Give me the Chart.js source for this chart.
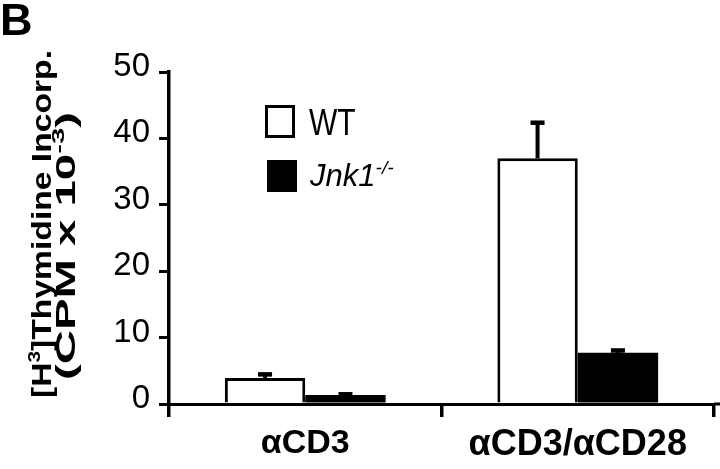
<!DOCTYPE html>
<html>
<head>
<meta charset="utf-8">
<script src="https://cdn.jsdelivr.net/npm/chart.js@4.4.1/dist/chart.umd.min.js"></script>
<style>
  html, body { margin: 0; padding: 0; background: #fff; }
  #wrap { width: 720px; height: 469px; position: relative; }
</style>
</head>
<body>
<div id="wrap"><canvas id="c" width="720" height="469"></canvas></div>
<script>
// ---- data ----
const categories = ['\u03B1CD3', '\u03B1CD3/\u03B1CD28'];
const wtValues = [3.9, 37.0];
const wtErrors = [0.6, 5.4];
const jnkValues = [1.35, 7.7];
const jnkErrors = [0.15, 0.4];
const yTicks = [0, 10, 20, 30, 40, 50];

const SANS = '"Liberation Sans", Arial, Helvetica, sans-serif';

const errorBars = {
  id: 'errorBars',
  afterDatasetsDraw(chart) {
    const ctx = chart.ctx;
    const ys = chart.scales.y;
    const errs = [wtErrors, jnkErrors];
    chart.data.datasets.forEach((ds, i) => {
      const meta = chart.getDatasetMeta(i);
      meta.data.forEach((bar, j) => {
        const v = ds.data[j];
        const yTop = ys.getPixelForValue(v);
        const yE = ys.getPixelForValue(v + errs[i][j]);
        ctx.save();
        ctx.fillStyle = '#000';
        ctx.fillRect(bar.x - 2, yE, 4, yTop - yE);
        ctx.fillRect(bar.x - 7, yE - 2, 14, 4.5);
        ctx.restore();
      });
    });
  }
};

function drawParts(ctx, parts, size, weight, style) {
  let x = 0;
  parts.forEach(p => {
    const s = p.sup ? size * 0.62 : size;
    ctx.font = `${style || 'normal'} ${weight} ${s}px ${SANS}`;
    ctx.fillText(p.t, x, p.sup ? -size * 0.38 : 0);
    x += ctx.measureText(p.t).width;
  });
  return x;
}
function measureParts(ctx, parts, size, weight, style) {
  let w = 0;
  parts.forEach(p => {
    const s = p.sup ? size * 0.62 : size;
    ctx.font = `${style || 'normal'} ${weight} ${s}px ${SANS}`;
    w += ctx.measureText(p.t).width;
  });
  return w;
}

const decorations = {
  id: 'decorations',
  afterDraw(chart) {
    const ctx = chart.ctx;
    ctx.save();
    ctx.fillStyle = '#000';
    ctx.textBaseline = 'alphabetic';
    ctx.textAlign = 'left';
    // panel letter
    ctx.font = `bold 45px ${SANS}`;
    ctx.fillText('B', 0, 35);

    // y title, two rotated lines
    const line1 = [{t: '[H'}, {t: '3', sup: true}, {t: ']Thymidine Incorp.'}];
    const line2 = [{t: '(CPM x 10'}, {t: '-3', sup: true}, {t: ')'}];
    [[line1, 51, 398, 348], [line2, 75, 380, 268]].forEach(([parts, bx, y0, len]) => {
      const size = 28;
      const w = measureParts(ctx, parts, size, 'bold');
      ctx.save();
      ctx.translate(bx, y0);
      ctx.rotate(-Math.PI / 2);
      ctx.scale(len / w, 1);
      drawParts(ctx, parts, size, 'bold');
      ctx.restore();
    });

    // legend
    ctx.lineWidth = 3;
    ctx.strokeStyle = '#000';
    ctx.fillStyle = '#fff';
    ctx.fillRect(266.5, 106.5, 27, 30);
    ctx.strokeRect(266.5, 106.5, 27, 30);
    ctx.fillStyle = '#000';
    ctx.fillRect(267, 160, 30, 32);
    ctx.save();
    ctx.translate(309, 135);
    ctx.scale(1, 1.2);
    drawParts(ctx, [{t: 'WT'}], 30, 'normal');
    ctx.restore();
    ctx.save();
    ctx.translate(310, 186);
    drawParts(ctx, [{t: 'Jnk1'}, {t: '-/-', sup: true}], 31, 'normal', 'italic');
    ctx.restore();

    // extend x axis to right edge
    const ca = chart.chartArea;
    ctx.fillRect(ca.right, ca.bottom - 1.5, 720 - ca.right, 3);
    ctx.restore();
  }
};

new Chart(document.getElementById('c'), {
  type: 'bar',
  data: {
    labels: categories,
    datasets: [
      {
        label: 'WT',
        data: wtValues,
        backgroundColor: '#fff',
        borderColor: '#000',
        borderWidth: 3,
        borderSkipped: 'bottom',
        barPercentage: 1.0,
        categoryPercentage: 0.59
      },
      {
        label: 'Jnk1-/-',
        data: jnkValues,
        backgroundColor: '#000',
        borderColor: '#000',
        borderWidth: 0,
        barPercentage: 1.0,
        categoryPercentage: 0.59
      }
    ]
  },
  options: {
    responsive: false,
    animation: false,
    devicePixelRatio: 1,
    layout: { padding: { top: 72, right: 6, left: 0, bottom: 0 } },
    plugins: {
      legend: { display: false },
      tooltip: { enabled: false },
      title: { display: false }
    },
    scales: {
      x: {
        offset: true,
        grid: {
          offset: true,
          drawOnChartArea: false,
          drawTicks: true,
          tickLength: 13,
          color: '#000',
          lineWidth: 3.5
        },
        border: { display: true, color: '#000', width: 3 },
        ticks: {
          color: '#000',
          font: (c) => ({ family: SANS, size: c.index === 1 ? 36 : 34, weight: 'bold' }),
          padding: 6,
          maxRotation: 0,
          autoSkip: false
        },
        afterFit(scale) { scale.height = 65; }
      },
      y: {
        min: 0,
        max: 50,
        afterBuildTicks(scale) { scale.ticks = yTicks.map(v => ({ value: v })); },
        grid: {
          drawOnChartArea: false,
          drawTicks: true,
          tickLength: 10,
          color: '#000',
          lineWidth: 3
        },
        border: { display: true, color: '#000', width: 3.5 },
        ticks: {
          color: '#000',
          font: { family: SANS, size: 33 },
          padding: 9,
          labelOffset: -5
        },
        afterFit(scale) { scale.width = 169; }
      }
    }
  },
  plugins: [errorBars, decorations]
});
</script>
</body>
</html>
